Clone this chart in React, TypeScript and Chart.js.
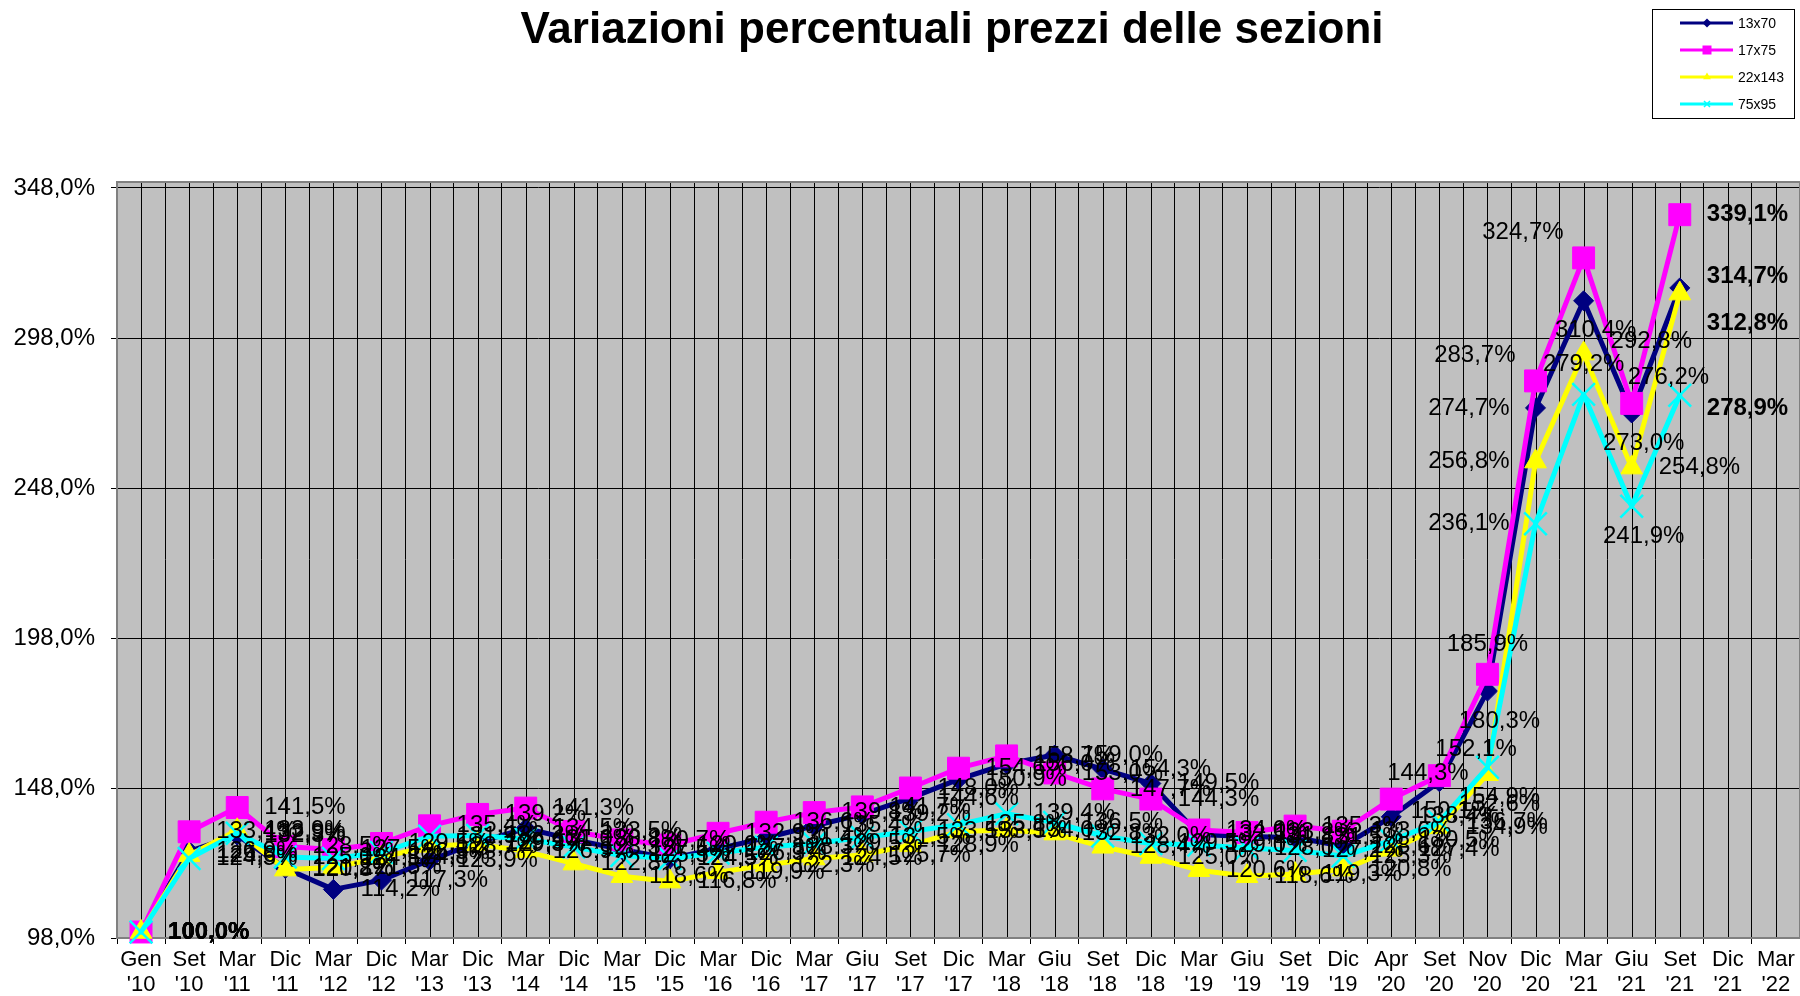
import React, { useEffect, useRef } from 'react';
import { Chart, registerables } from 'chart.js';

Chart.register(...registerables);

const FONT = '"Liberation Sans", Arial, Helvetica, sans-serif';

const categories = [
  "Gen '10", "Set '10", "Mar '11", "Dic '11", "Mar '12", "Dic '12", "Mar '13", "Dic '13",
  "Mar '14", "Dic '14", "Mar '15", "Dic '15", "Mar '16", "Dic '16", "Mar '17", "Giu '17",
  "Set '17", "Dic '17", "Mar '18", "Giu '18", "Set '18", "Dic '18", "Mar '19", "Giu '19",
  "Set '19", "Dic '19", "Apr '20", "Set '20", "Nov '20", "Dic '20", "Mar '21", "Giu '21",
  "Set '21", "Dic '21", "Mar '22",
];

const values13x70 = [
  100.0, 126.9, 132.3, 121.2, 114.2, 117.3, 123.9, 129.9, 134.5, 130.8, 127.5, 124.5,
  127.8, 131.4, 135.4, 139.2, 144.6, 150.9, 156.0, 159.0, 154.3, 149.5, 132.5, 131.8,
  131.5, 128.6, 138.4, 150.1, 180.3, 274.7, 310.4, 273.0, 314.7, null, null,
];

const values17x75 = [
  100.0, 133.4, 141.5, 128.5, 127.5, 129.5, 135.4, 139.2, 141.3, 133.5, 130.7, 129.0,
  132.9, 136.6, 139.8, 141.7, 148.0, 154.6, 158.7, 153.0, 147.7, 144.3, 134.0, 133.2,
  135.3, 133.6, 144.3, 152.1, 185.9, 283.7, 324.7, 276.2, 339.1, null, null,
];

const values22x143 = [
  100.0, 125.6, 133.9, 120.8, 121.5, 124.8, 128.7, 129.3, 126.9, 122.8, 118.6, 116.8,
  119.9, 122.3, 124.5, 125.7, 128.9, 133.5, 134.0, 132.8, 128.4, 125.0, 120.6, 118.6,
  119.3, 120.8, 127.4, 134.9, 152.6, 256.8, 292.8, 254.8, 312.8, null, null,
];

const values75x95 = [
  100.0, 124.5, 132.9, 125.0, 124.5, 126.5, 131.9, 132.2, 131.0, 128.3, 125.5, 124.5,
  126.3, 128.3, 129.5, 131.5, 133.5, 135.8, 139.4, 136.5, 132.0, 129.5, 129.0, 128.0,
  127.2, 125.3, 130.5, 136.7, 154.9, 236.1, 279.2, 241.9, 278.9, null, null,
];

const yTicks = [98, 148, 198, 248, 298, 348];

const TITLE = 'Variazioni percentuali prezzi delle sezioni';

// label placement overrides (style only): r=right, ru/rd=right nudged up/down,
// l=left, a=above, b=below, ar=above-right, al=above-left, br=below-right
const labelPlacement: Record<string, Record<number, string>> = {
  '13x70': { 27: 'b', 28: 'b', 29: 'l', 30: 'b', 31: 'b', 32: 'ru' },
  '17x75': { 26: 'ar', 27: 'ar', 28: 'a', 29: 'al', 30: 'al', 31: 'ar' },
  '22x143': { 28: 'b', 29: 'l', 30: 'ru', 32: 'br' },
  '75x95': { 28: 'b', 29: 'l', 30: 'a', 31: 'b', 32: 'rd' },
};

const fmt = (v: number) => v.toFixed(1).replace('.', ',') + '%';

const seriesStyles = [
  { label: '13x70', data: values13x70, color: '#000080', pointStyle: 'rectRot', radius: 10, order: 4, pbw: 1 },
  { label: '17x75', data: values17x75, color: '#FF00FF', pointStyle: 'rect', radius: 15.5, order: 3, pbw: 1 },
  { label: '22x143', data: values22x143, color: '#FFFF00', pointStyle: 'triangle', radius: 12.5, order: 2, pbw: 1 },
  { label: '75x95', data: values75x95, color: '#00FFFF', pointStyle: 'crossRot', radius: 16, order: 1, pbw: 2.5 },
];

const plotBgPlugin = {
  id: 'plotBg',
  beforeDraw(chart: any) {
    const { ctx, chartArea: a } = chart;
    ctx.save();
    ctx.fillStyle = '#C0C0C0';
    ctx.fillRect(a.left, a.top, a.right - a.left, a.bottom - a.top);
    ctx.restore();
  },
  beforeDatasetsDraw(chart: any) {
    const { ctx, chartArea: a } = chart;
    const xs = chart.scales.x;
    ctx.save();
    ctx.strokeStyle = '#000000';
    ctx.lineWidth = 1;
    for (let i = 0; i < categories.length; i++) {
      const x = Math.round(xs.getPixelForValue(i)) + 0.5;
      ctx.beginPath();
      ctx.moveTo(x, a.top);
      ctx.lineTo(x, a.bottom);
      ctx.stroke();
    }
    ctx.strokeStyle = '#808080';
    ctx.lineWidth = 2;
    ctx.strokeRect(a.left, a.top, a.right - a.left, a.bottom - a.top);
    ctx.restore();
  },
};

const dataLabelPlugin = {
  id: 'dataLabels',
  afterDatasetsDraw(chart: any) {
    const ctx = chart.ctx;
    ctx.save();
    ctx.fillStyle = '#000000';
    ctx.textBaseline = 'middle';
    chart.data.datasets.forEach((ds: any, di: number) => {
      const meta = chart.getDatasetMeta(di);
      const vals = ds.data as (number | null)[];
      let last = -1;
      vals.forEach((v, i) => { if (v != null) last = i; });
      meta.data.forEach((pt: any, i: number) => {
        const v = vals[i];
        if (v == null) return;
        const bold = i === 0 || i === last;
        ctx.font = `${bold ? 'bold ' : ''}24px ${FONT}`;
        const place = (labelPlacement[ds.label] || {})[i] || 'r';
        let x = pt.x;
        let y = pt.y;
        let align: CanvasTextAlign = 'left';
        switch (place) {
          case 'l': x -= 26; align = 'right'; break;
          case 'a': y -= 30; align = 'center'; break;
          case 'b': x += 12; y += 30; align = 'center'; break;
          case 'ar': x -= 4; y -= 26; align = 'left'; break;
          case 'al': x -= 20; y -= 26; align = 'right'; break;
          case 'br': x += 27; y += 30; align = 'left'; break;
          case 'ru': x += 27; y -= 12; align = 'left'; break;
          case 'rd': x += 27; y += 13; align = 'left'; break;
          default: x += 27; align = 'left';
        }
        ctx.textAlign = align;
        ctx.fillText(fmt(v), x, y);
      });
    });
    ctx.restore();
  },
};

function drawMarker(ctx: CanvasRenderingContext2D, style: string, x: number, y: number, r: number) {
  ctx.beginPath();
  if (style === 'rectRot') {
    ctx.moveTo(x, y - r); ctx.lineTo(x + r, y); ctx.lineTo(x, y + r); ctx.lineTo(x - r, y); ctx.closePath();
    ctx.fill();
  } else if (style === 'rect') {
    const s = r * 0.75;
    ctx.rect(x - s, y - s, 2 * s, 2 * s);
    ctx.fill();
  } else if (style === 'triangle') {
    ctx.moveTo(x, y - r); ctx.lineTo(x + r * 0.87, y + r * 0.5); ctx.lineTo(x - r * 0.87, y + r * 0.5); ctx.closePath();
    ctx.fill();
  } else {
    const s = r * 0.5;
    ctx.moveTo(x - s, y - s); ctx.lineTo(x + s, y + s);
    ctx.moveTo(x + s, y - s); ctx.lineTo(x - s, y + s);
    ctx.stroke();
  }
}

const titleLegendPlugin = {
  id: 'titleLegend',
  afterDraw(chart: any) {
    const ctx = chart.ctx;
    ctx.save();
    ctx.fillStyle = '#000000';
    ctx.font = `bold 44px ${FONT}`;
    ctx.textAlign = 'center';
    ctx.textBaseline = 'alphabetic';
    ctx.fillText(TITLE, 952, 43);
    const bx = 1652, by = 9, bw = 142, bh = 109;
    ctx.fillStyle = '#FFFFFF';
    ctx.fillRect(bx, by, bw, bh);
    ctx.strokeStyle = '#000000';
    ctx.lineWidth = 1;
    ctx.strokeRect(bx + 0.5, by + 0.5, bw, bh);
    const rowY = [23, 50, 77, 104];
    seriesStyles.forEach((s, i) => {
      const y = rowY[i];
      ctx.strokeStyle = s.color;
      ctx.lineWidth = 3;
      ctx.beginPath();
      ctx.moveTo(1680, y);
      ctx.lineTo(1733, y);
      ctx.stroke();
      ctx.fillStyle = s.color;
      ctx.strokeStyle = s.color;
      ctx.lineWidth = 1.5;
      const r = s.pointStyle === 'rect' ? 6 : s.pointStyle === 'crossRot' ? 6 : 4.5;
      drawMarker(ctx, s.pointStyle, 1707, y, r);
      ctx.fillStyle = '#000000';
      ctx.font = `14px ${FONT}`;
      ctx.textAlign = 'left';
      ctx.textBaseline = 'middle';
      ctx.fillText(s.label, 1738, y + 1);
    });
    ctx.restore();
  },
};

export default function App() {
  const canvasRef = useRef<HTMLCanvasElement | null>(null);

  useEffect(() => {
    const canvas = canvasRef.current;
    if (!canvas) return;
    const chart = new Chart(canvas, {
      type: 'line',
      data: {
        labels: categories.map((c) => c.split(' ')),
        datasets: seriesStyles.map((s) => ({
          label: s.label,
          data: s.data,
          borderColor: s.color,
          backgroundColor: s.color,
          borderWidth: 5,
          borderJoinStyle: 'round',
          borderCapStyle: 'round',
          pointStyle: s.pointStyle,
          pointRadius: s.radius,
          pointBackgroundColor: s.color,
          pointBorderColor: s.color,
          pointBorderWidth: s.pbw,
          tension: 0,
          fill: false,
          order: s.order,
          spanGaps: false,
          clip: false,
        })) as any,
      },
      options: {
        responsive: false,
        animation: false,
        devicePixelRatio: 1,
        layout: { autoPadding: false, padding: { top: 182, left: 0, right: 0, bottom: 0 } },
        plugins: {
          legend: { display: false },
          title: { display: false },
          tooltip: { enabled: false },
        },
        scales: {
          x: {
            type: 'category',
            offset: true,
            grid: {
              offset: true,
              color: '#000000',
              lineWidth: 1,
              tickLength: 6,
              drawTicks: true,
            },
            border: { display: true, color: '#808080', width: 2 },
            ticks: {
              autoSkip: false,
              maxRotation: 0,
              minRotation: 0,
              color: '#000000',
              padding: 4,
              font: { family: FONT, size: 22, lineHeight: 1.12 },
            },
            afterFit: (scale: any) => {
              scale.height = 58;
              scale.paddingLeft = 0;
              scale.paddingRight = 0;
            },
          },
          y: {
            type: 'linear',
            min: 98,
            max: 350,
            afterBuildTicks: (axis: any) => {
              axis.ticks = yTicks.map((v) => ({ value: v }));
            },
            grid: { color: '#000000', lineWidth: 1, tickLength: 6 },
            border: { display: true, color: '#808080', width: 2 },
            ticks: {
              color: '#000000',
              padding: 16,
              font: { family: FONT, size: 24 },
              callback: (v: any) => fmt(Number(v)),
            },
            afterFit: (scale: any) => {
              scale.width = 117;
              scale.paddingTop = 0;
              scale.paddingBottom = 0;
            },
          },
        },
      } as any,
      plugins: [plotBgPlugin, dataLabelPlugin, titleLegendPlugin],
    });
    return () => chart.destroy();
  }, []);

  return (
    <div style={{ position: 'fixed', left: 0, top: 0, width: 1800, height: 996, overflow: 'hidden', background: '#FFFFFF' }}>
      <canvas ref={canvasRef} width={1800} height={996} style={{ display: 'block' }} />
    </div>
  );
}
